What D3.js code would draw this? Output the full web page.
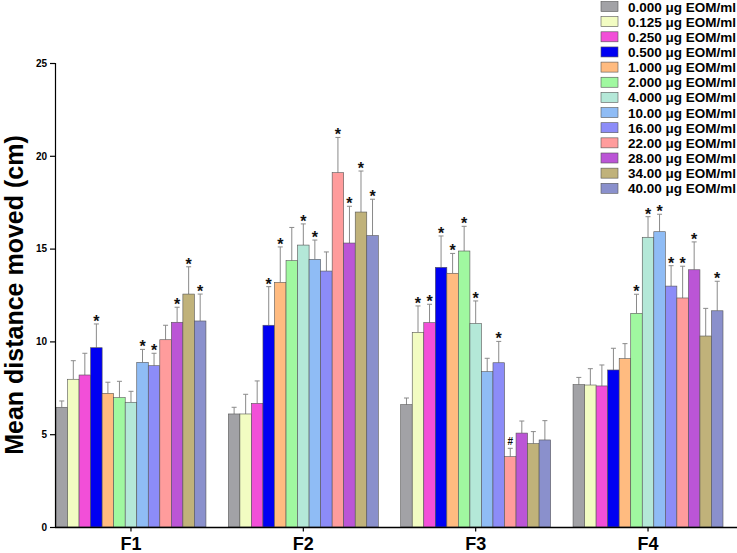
<!DOCTYPE html>
<html><head><meta charset="utf-8">
<script src="https://cdn.jsdelivr.net/npm/d3@7/dist/d3.min.js"></script>
<style>body{margin:0;background:#fff}svg{display:block}text{font-family:"Liberation Sans",Arial,sans-serif}</style>
</head><body>
<svg id="c" width="737" height="553"></svg>
<script>
const groups = ["F1","F2","F3","F4"];
const series = ["0.000 μg EOM/ml","0.125 μg EOM/ml","0.250 μg EOM/ml","0.500 μg EOM/ml","1.000 μg EOM/ml","2.000 μg EOM/ml","4.000 μg EOM/ml","10.00 μg EOM/ml","16.00 μg EOM/ml","22.00 μg EOM/ml","28.00 μg EOM/ml","34.00 μg EOM/ml","40.00 μg EOM/ml"];
const colors = ["#a2a2a6","#f2fcc2","#f24fd8","#0000f2","#ffbb80","#a0f8a0","#b4e8d8","#8fbcf5","#8c8cf8","#ff9c9c","#bb55d6","#c0b27a","#8a90cc"];
const meansF1 = [6.45,7.96,8.19,9.66,7.20,6.97,6.72,8.87,8.69,10.09,11.03,12.55,11.10];
const meansF2 = [6.09,6.09,6.66,10.87,13.18,14.35,15.19,14.42,13.79,19.09,15.30,16.97,15.70];
const meansF3 = [6.59,10.49,11.01,13.99,13.67,14.87,10.96,8.37,8.85,3.79,5.06,4.49,4.69];
const meansF4 = [7.67,7.65,7.60,8.46,9.07,11.51,15.61,15.91,12.98,12.34,13.86,10.29,11.65];
const errF1 = [0.34,1.00,1.17,1.28,0.60,0.88,0.59,0.70,0.67,0.78,0.81,1.47,1.45];
const errF2 = [0.36,1.06,1.21,2.08,1.91,1.79,1.14,1.04,1.03,1.90,1.98,2.21,1.96];
const errF3 = [0.36,1.42,0.99,1.69,1.07,1.33,1.22,0.72,1.15,0.45,0.65,0.65,1.04];
const errF4 = [0.39,0.88,1.13,1.17,0.81,1.03,1.11,0.94,1.10,1.71,1.50,1.49,1.59];
const sigF1 = ["","","","*","","","","*","*","","*","*","*"];
const sigF2 = ["","","","*","*","","*","*","","*","*","*","*"];
const sigF3 = ["","*","*","*","*","*","*","","*","#","","",""];
const sigF4 = ["","","","","","*","*","*","*","*","*","","*"];
const yTicks = [0,5,10,15,20,25];

const means = [meansF1,meansF2,meansF3,meansF4];
const errs = [errF1,errF2,errF3,errF4];
const sigs = [sigF1,sigF2,sigF3,sigF4];

const svg = d3.select("#c");
const y = d3.scaleLinear().domain([0,25]).range([527,63]);
const x0 = d3.scaleBand().domain(groups).range([56,723]).paddingInner(0.13).paddingOuter(0);
const x1 = d3.scaleBand().domain(series).range([0,x0.bandwidth()]).padding(0);

const g = svg.append("g");
groups.forEach((gr,gi)=>{
  const gg = g.append("g").attr("transform",`translate(${x0(gr)},0)`);
  series.forEach((s,si)=>{
    const v = means[gi][si], e = errs[gi][si];
    const bx = x1(s), bw = x1.bandwidth(), cx = bx + bw/2;
    gg.append("line").attr("x1",cx).attr("x2",cx).attr("y1",y(v)).attr("y2",y(v+e)).attr("stroke","#8a8a8a").attr("stroke-width",1);
    gg.append("line").attr("x1",cx-2.5).attr("x2",cx+2.5).attr("y1",y(v+e)).attr("y2",y(v+e)).attr("stroke","#8a8a8a").attr("stroke-width",1);
    gg.append("rect").attr("x",bx).attr("width",bw).attr("y",y(v)).attr("height",y(0)-y(v))
      .attr("fill",colors[si]).attr("stroke","#555").attr("stroke-width",0.6);
    const sg = sigs[gi][si];
    if(sg==="*"){
      gg.append("text").attr("x",cx).attr("y",y(v+e)+3).attr("text-anchor","middle")
        .attr("font-size","16px").attr("font-weight","bold").attr("fill","#111").text("*");
    } else if(sg==="#"){
      gg.append("text").attr("x",cx).attr("y",y(v+e)-3).attr("text-anchor","middle")
        .attr("font-size","10px").attr("font-weight","bold").attr("fill","#111").text("#");
    }
  });
});

const ya = svg.append("g").attr("transform","translate(55,0)")
  .call(d3.axisLeft(y).tickValues(yTicks).tickSize(5).tickPadding(3));
ya.select(".domain").attr("stroke","#000").attr("stroke-width",1.2);
ya.selectAll(".tick line").attr("stroke","#000").attr("stroke-width",1.2);
ya.selectAll(".tick text").attr("font-size","10px").attr("font-weight","bold").attr("fill","#000").attr("font-family","Liberation Sans, Arial, sans-serif");

const xa = svg.append("g").attr("transform","translate(0,527.5)")
  .call(d3.axisBottom(x0).tickSize(4).tickPadding(6));
xa.select(".domain").remove();
svg.append("line").attr("x1",55).attr("x2",737).attr("y1",527.5).attr("y2",527.5).attr("stroke","#000").attr("stroke-width",1.6);
xa.selectAll(".tick line").attr("stroke","#000").attr("stroke-width",1.2);
xa.selectAll(".tick text").attr("font-size","18px").attr("font-weight","bold").attr("fill","#000").attr("font-family","Liberation Sans, Arial, sans-serif");

svg.append("text").attr("transform","translate(23,295) rotate(-90)").attr("text-anchor","middle")
  .attr("font-size","25px").attr("font-weight","bold").attr("fill","#000").text("Mean distance moved (cm)");

const lg = svg.append("g").attr("transform","translate(601,1.5)");
series.forEach((s,i)=>{
  const row = lg.append("g").attr("transform",`translate(0,${i*15.15})`);
  row.append("rect").attr("x",0).attr("y",0).attr("width",17).attr("height",10).attr("fill",colors[i]).attr("stroke","#555").attr("stroke-width",0.6);
  row.append("text").attr("x",27).attr("y",10).attr("font-size","13.5px").attr("font-weight","bold").attr("fill","#000").text(s);
});
</script>
</body></html>
